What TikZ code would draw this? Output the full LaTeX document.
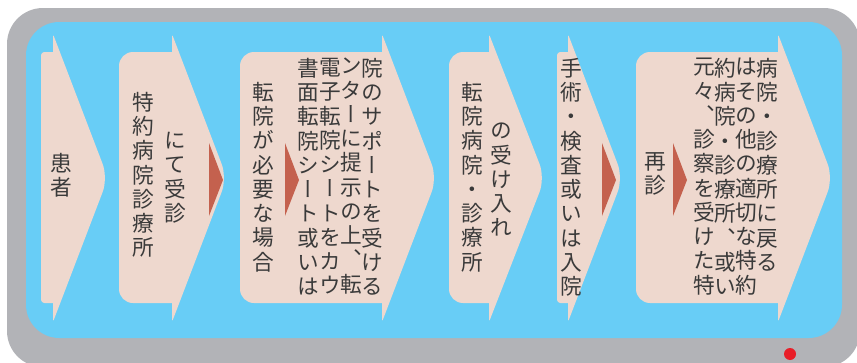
\documentclass[tikz,border=0pt]{standalone}
\usepackage{fontspec}
\newfontfamily\cjk[RawFeature=+vert]{Noto Sans CJK JP}
\usetikzlibrary{arrows.meta}

\definecolor{frameGray}{RGB}{178,179,183}
\definecolor{skyBlue}{RGB}{104,205,246}
\definecolor{peach}{RGB}{238,216,206}
\definecolor{rust}{RGB}{196,97,78}
\definecolor{ink}{RGB}{58,58,58}
\definecolor{dotRed}{RGB}{232,30,40}

\begin{document}
\begin{tikzpicture}[
      x=0.03cm, y=-0.03cm,
      tate/.style={align=center, inner sep=0pt, anchor=north, text=ink,
                   font=\cjk\fontsize{18.5}{20.7}\selectfont}]

    % 1 unit = 1 px of the 857 x 363 sheet, y grows downwards
    \useasboundingbox (0,0) rectangle (857,363);
    \fill[white] (0,0) rectangle (857,363);

    % === frame ===
    \fill[frameGray, rounded corners=1.08cm] (7,8) rectangle (860,367);
    \fill[skyBlue, rounded corners=1.0cm] (26,22) rectangle (842,338);

    % Helper: one chevron step
    % #1=left edge, #2=base of the point, #3=tip, #4=corner of the box
    \newcommand{\chev}[4]{
        \fill[peach] (#2,52) [rounded corners=0.08cm] -- (#2,34)
            [rounded corners=0.45cm] -- (#3,178)
            [rounded corners=0.08cm] -- (#2,322)
            [sharp corners] -- (#2,303)
            [rounded corners=#4] -- (#1,303) -- (#1,52)
            [sharp corners] -- cycle;
    }
    % Helper: small dark pointer, #1=left edge
    \newcommand{\pointer}[1]{
        \fill[rust] (#1,143) -- (#1+14,180) -- (#1,216) -- cycle;
    }

    % === steps ===
    \chev{41}{53}{108}{0.1cm}
    \chev{119}{172}{227}{0.42cm}
    \chev{240}{382}{437}{0.42cm}
    \chev{449}{489}{545}{0.42cm}
    \chev{557}{568}{623}{0.1cm}
    \chev{636}{778}{833}{0.42cm}

    \foreach \px in {209,285,602,673} {
        \pointer{\px}
    }

    % === texts (columns run left to right) ===
    \node[tate] (kanja) at (61,153) {患\\者};

    \node[tate] (tokuyaku) at (143,92) {特\\約\\病\\院\\診\\療\\所};
    \node[tate] (jushin) at (175,132) {に\\て\\受\\診};

    \node[tate] (baai) at (263,82) {転\\院\\が\\必\\要\\な\\場\\合};
    \node[tate] (sheetA) at (308,58) {書\\面\\転\\院\\シ\\ー\\ト\\或\\い\\は};
    \node[tate] (sheetB) at (330,58) {電\\子\\転\\院\\シ\\ー\\ト\\を\\カ\\ウ};
    \node[tate] (sheetC) at (351,58) {ン\\タ\\ー\\に\\提\\示\\の\\上\\、\\転};
    \node[tate] (sheetD) at (372,58) {院\\の\\サ\\ポ\\ー\\ト\\を\\受\\け\\る};

    \node[tate] (tenbyoin) at (472,82) {転\\院\\病\\院\\・\\診\\療\\所};
    \node[tate] (ukeire) at (501,123) {の\\受\\け\\入\\れ};

    \node[tate] (shujutsu) at (571,58) {手\\術\\・\\検\\査\\或\\い\\は\\入\\院};

    \node[tate] (saishin) at (655,152) {再\\診};
    \node[tate] (modoruA) at (704,58) {元\\々\\、\\診\\察\\を\\受\\け\\た\\特};
    \node[tate] (modoruB) at (725,58) {約\\病\\院\\・\\診\\療\\所\\、\\或\\い};
    \node[tate] (modoruC) at (746,58) {は\\そ\\の\\他\\の\\適\\切\\な\\特\\約};
    \node[tate] (modoruD) at (767,58) {病\\院\\・\\診\\療\\所\\に\\戻\\る};

    % page mark
    \fill[dotRed] (790,354) circle (0.18cm);

\end{tikzpicture}
\end{document}
